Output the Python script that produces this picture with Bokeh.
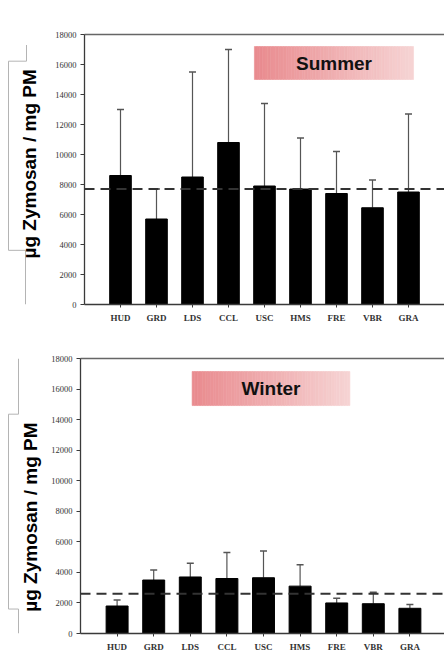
import numpy as np
from bokeh.plotting import figure
from bokeh.layouts import column, row
from bokeh.models import (Range1d, FixedTicker, LinearAxis, Span, Whisker, TeeHead,
                          ColumnDataSource, Label)
from bokeh.embed import file_html
from bokeh.resources import INLINE

# ---------------- data ----------------
sites = ["HUD", "GRD", "LDS", "CCL", "USC", "HMS", "FRE", "VBR", "GRA"]
summer_mean = [8600, 5700, 8500, 10800, 7900, 7700, 7400, 6450, 7500]
summer_sd = [4400, 2000, 7000, 6200, 5500, 3400, 2800, 1850, 5200]
summer_avg = 7700
winter_mean = [1800, 3500, 3700, 3600, 3650, 3100, 2000, 1950, 1650]
winter_sd = [400, 650, 900, 1700, 1750, 1400, 300, 750, 250]
winter_avg = 2600
y_ticks = [0, 2000, 4000, 6000, 8000, 10000, 12000, 14000, 16000, 18000]
y_label = "µg Zymosan / mg PM"

AXIS_COL = "#3a3a3a"
ERR_COL = "#555555"
STRIP_W = 48
CHART_W = 444 - STRIP_W


def make_strip(h, y_top, y_bot, pts, label_x, label_y):
    s = figure(width=STRIP_W, height=h, x_range=Range1d(0, STRIP_W),
               y_range=Range1d(y_bot, y_top),
               output_backend="svg", toolbar_location=None,
               min_border=0, min_border_left=0, min_border_right=0,
               min_border_top=0, min_border_bottom=0)
    s.axis.visible = False
    s.grid.visible = False
    s.outline_line_color = None
    xs = [p[0] for p in pts]
    ys = [p[1] for p in pts]
    s.line(xs, ys, line_color="#b4b4b4", line_width=1)
    s.add_layout(Label(x=label_x, y=label_y, text=y_label, angle=np.pi / 2,
                       text_align="center", text_baseline="middle",
                       text_font="Liberation Sans", text_font_style="bold",
                       text_font_size="19px", text_color="black"))
    return s


def make_chart(h, means, sds, avg, season, mb_left, mb_top, mb_bot, x_end, box):
    p = figure(width=CHART_W, height=h, x_range=Range1d(0, x_end), y_range=Range1d(0, 18000),
               output_backend="svg", toolbar_location=None,
               min_border_left=mb_left, min_border_right=0,
               min_border_top=mb_top, min_border_bottom=mb_bot)
    p.outline_line_color = None
    p.grid.visible = False
    p.background_fill_color = "white"

    xs = list(range(1, len(sites) + 1))
    upper = [m + s for m, s in zip(means, sds)]
    src = ColumnDataSource(dict(x=xs, mean=means, upper=upper))

    # season label box with horizontal gradient
    x0, x1, y0, y1 = box
    n = 60
    edges = np.linspace(x0, x1, n + 1)
    c0 = np.array([233, 138, 142])
    c1 = np.array([246, 212, 212])
    cols = ["#%02x%02x%02x" % tuple(int(round(v)) for v in (c0 + (c1 - c0) * (i + 0.5) / n))
            for i in range(n)]
    p.quad(left=edges[:-1], right=edges[1:], bottom=y0, top=y1,
           fill_color=cols, line_color=cols, line_width=0.6)
    p.add_layout(Label(x=(x0 + x1) / 2, y=(y0 + y1) / 2, text=season,
                       text_align="center", text_baseline="middle",
                       text_font="Liberation Sans", text_font_style="bold",
                       text_font_size="19px", text_color="#111111"))

    p.add_layout(Whisker(source=src, base="x", lower="mean", upper="upper",
                         line_color=ERR_COL, line_width=1.2,
                         upper_head=TeeHead(size=7, line_color=ERR_COL, line_width=1.5),
                         lower_head=None))
    p.vbar(x="x", top="mean", width=0.6, source=src, fill_color="black", line_color="black")

    p.add_layout(Span(location=avg, dimension="width", line_color="#333333",
                      line_width=2, line_dash="10 6"))

    # axes
    p.yaxis.ticker = FixedTicker(ticks=y_ticks)
    p.yaxis.major_label_text_font = "Liberation Serif"
    p.yaxis.major_label_text_font_size = "8.5px"
    p.yaxis.major_label_text_color = "#333333"
    p.yaxis.axis_line_color = AXIS_COL
    p.yaxis.axis_line_width = 1.3
    p.yaxis.major_tick_line_color = AXIS_COL
    p.yaxis.major_tick_in = 0
    p.yaxis.major_tick_out = 4
    p.yaxis.minor_tick_line_color = None
    p.yaxis.major_label_standoff = 4

    p.xaxis.ticker = FixedTicker(ticks=xs)
    p.xaxis.major_label_overrides = {x: s for x, s in zip(xs, sites)}
    p.xaxis.major_label_text_font = "Liberation Serif"
    p.xaxis.major_label_text_font_style = "bold"
    p.xaxis.major_label_text_font_size = "9px"
    p.xaxis.major_label_text_color = "#333333"
    p.xaxis.axis_line_color = AXIS_COL
    p.xaxis.axis_line_width = 1.3
    p.xaxis.major_tick_line_color = AXIS_COL
    p.xaxis.major_tick_in = 0
    p.xaxis.major_tick_out = 3
    p.xaxis.minor_tick_line_color = None
    p.xaxis.major_label_standoff = 5

    top_axis = LinearAxis(ticker=FixedTicker(ticks=[]), axis_line_color="#666666",
                          axis_line_width=1.3, major_tick_line_color=None,
                          minor_tick_line_color=None, major_label_text_font_size="0px")
    p.add_layout(top_axis, "above")
    return p


TOP_H = 334
BOT_H = 660 - TOP_H

top_strip = make_strip(TOP_H, 0, TOP_H,
                       [(26, 13), (26, 33), (8, 33), (8, 267), (25, 267), (25, 334)],
                       28.5, 160)
bot_strip = make_strip(BOT_H, TOP_H, 660,
                       [(18, 334), (18, 400), (8, 400), (8, 631), (18, 631), (18, 660)],
                       29.5, 522)

top_chart = make_chart(TOP_H, summer_mean, summer_sd, summer_avg, "Summer",
                       36, 34, 30, 360 / 36.0, (4.72, 9.14, 15000, 17200))
bot_chart = make_chart(BOT_H, winter_mean, winter_sd, winter_avg, "Winter",
                       31, 24, 27, 365 / 36.7, (3.05, 7.36, 14920, 17150))

layout = column(row(top_strip, top_chart), row(bot_strip, bot_chart))

open("out.html", "w").write(file_html(layout, INLINE))
